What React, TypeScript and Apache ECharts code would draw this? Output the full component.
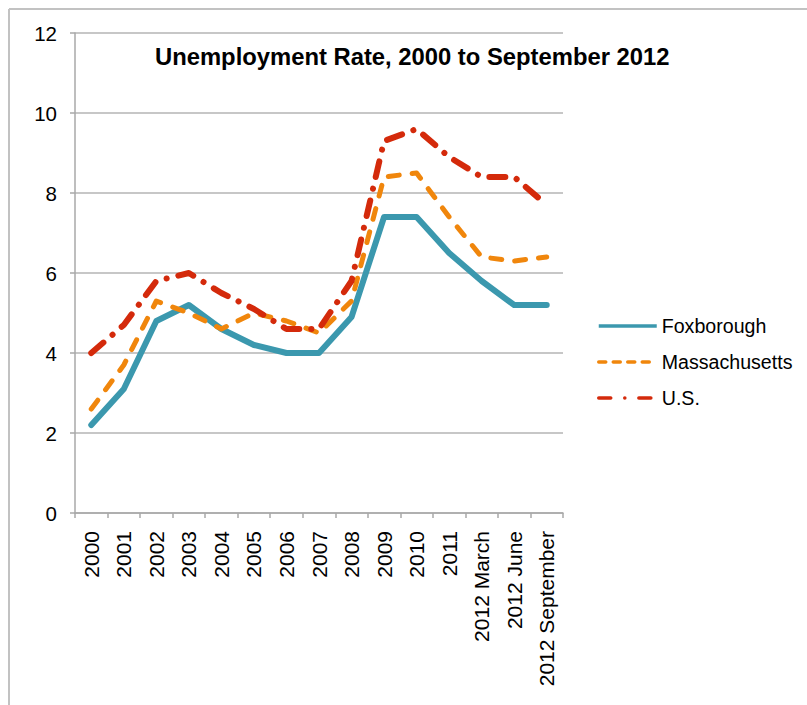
import React, { useEffect, useRef } from "react";
import * as echarts from "echarts";

const categories = [
  "2000", "2001", "2002", "2003", "2004", "2005", "2006", "2007", "2008",
  "2009", "2010", "2011", "2012 March", "2012 June", "2012 September",
];
const foxborough = [2.2, 3.1, 4.8, 5.2, 4.6, 4.2, 4.0, 4.0, 4.9, 7.4, 7.4, 6.5, 5.8, 5.2, 5.2];
const massachusetts = [2.6, 3.7, 5.3, 5.0, 4.6, 5.0, 4.8, 4.5, 5.3, 8.4, 8.5, 7.4, 6.4, 6.3, 6.4];
const us = [4.0, 4.7, 5.8, 6.0, 5.5, 5.1, 4.6, 4.6, 5.8, 9.3, 9.6, 8.9, 8.4, 8.4, 7.7];
const titleText = "Unemployment Rate, 2000 to September 2012";

const FONT = "'Liberation Sans', Arial, Helvetica, sans-serif";

export default function App() {
  const ref = useRef<HTMLDivElement>(null);
  useEffect(() => {
    if (!ref.current) return;
    const chart = echarts.init(ref.current, null, { renderer: "svg" });
    chart.setOption({
      animation: false,
      backgroundColor: "#ffffff",
      textStyle: { fontFamily: FONT },
      title: {
        text: titleText,
        left: 155,
        top: 44,
        padding: 0,
        textStyle: { fontFamily: FONT, fontSize: 23.8, fontWeight: "bold", color: "#000" },
      },
      graphic: [
        { type: "line", shape: { x1: 9, y1: 9, x2: 807, y2: 9 }, style: { stroke: "#c2c2c2", lineWidth: 2 } },
        { type: "line", shape: { x1: 9, y1: 9, x2: 9, y2: 705 }, style: { stroke: "#c2c2c2", lineWidth: 2 } },
      ],
      legend: {
        orient: "vertical",
        left: 597,
        top: 316,
        padding: 0,
        itemWidth: 58,
        itemHeight: 19,
        itemGap: 16,
        itemStyle: { color: "transparent", borderColor: "transparent", borderWidth: 0, opacity: 0 },
        lineStyle: { width: 3.5 },
        textStyle: { fontFamily: FONT, fontSize: 19.6, color: "#000", padding: [0, 0, 0, 0] },
        data: [
          { name: "Foxborough", lineStyle: { width: 3.5, type: "solid", cap: "butt" } },
          { name: "Massachusetts", lineStyle: { width: 3.5, type: [7, 7.5], cap: "round" } },
          { name: "U.S.", lineStyle: { width: 3.5, type: [12, 14, 0.1, 14], cap: "round" } },
        ],
      },
      grid: { left: 75, right: 244, top: 33, bottom: 192, containLabel: false },
      xAxis: {
        type: "category",
        data: categories,
        boundaryGap: true,
        axisLine: { show: true, lineStyle: { color: "#a8a8a8", width: 1.5 } },
        axisTick: { show: true, length: 5, lineStyle: { color: "#a8a8a8", width: 1.5 } },
        axisLabel: {
          rotate: 90,
          interval: 0,
          margin: 18,
          fontSize: 21,
          color: "#000",
          fontFamily: FONT,
        },
      },
      yAxis: {
        type: "value",
        min: 0,
        max: 12,
        interval: 2,
        axisLine: { show: true, lineStyle: { color: "#a8a8a8", width: 1.5 } },
        axisTick: { show: true, length: 5, lineStyle: { color: "#a8a8a8", width: 1.5 } },
        splitLine: { show: true, lineStyle: { color: "#b4b4b4", width: 1.5 } },
        axisLabel: { margin: 18, fontSize: 20.5, color: "#000", fontFamily: FONT },
      },
      series: [
        {
          name: "Foxborough",
          type: "line",
          data: foxborough,
          symbol: "none",
          showSymbol: false,
          color: "#3b98ae",
          lineStyle: { color: "#3b98ae", width: 6, join: "round", cap: "round" },
        },
        {
          name: "Massachusetts",
          type: "line",
          data: massachusetts,
          symbol: "none",
          showSymbol: false,
          color: "#f0860c",
          lineStyle: { color: "#f0860c", width: 5, type: [11, 13], cap: "round", join: "round" },
        },
        {
          name: "U.S.",
          type: "line",
          data: us,
          symbol: "none",
          showSymbol: false,
          color: "#d42a0b",
          lineStyle: { color: "#d42a0b", width: 6, type: [16, 12, 0.1, 12], cap: "round", join: "round" },
        },
      ],
    });
    return () => chart.dispose();
  }, []);
  return (
    <div
      ref={ref}
      style={{ position: "absolute", left: 0, top: 0, width: 807, height: 705 }}
    />
  );
}
